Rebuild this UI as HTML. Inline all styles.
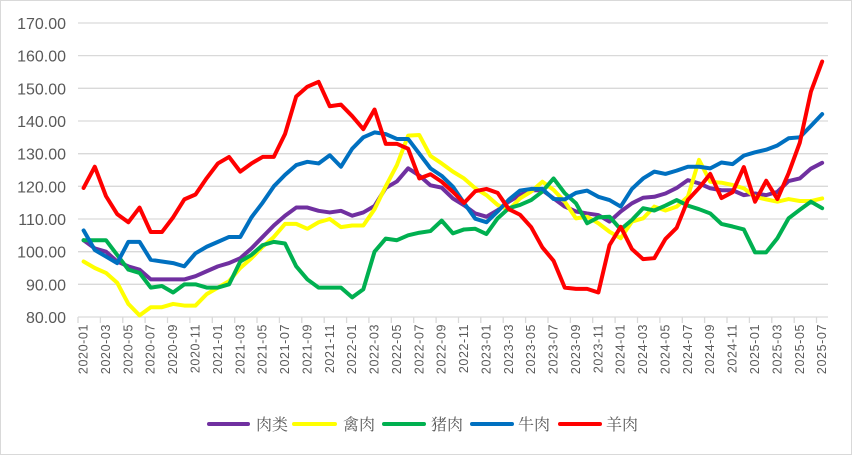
<!DOCTYPE html>
<html><head><meta charset="utf-8"><style>
html,body{margin:0;padding:0;background:#fff}
svg{display:block}
</style></head><body>
<svg width="852" height="455" viewBox="0 0 852 455" xmlns="http://www.w3.org/2000/svg">
<rect x="0.5" y="0.5" width="851" height="454" fill="#fff" stroke="#d9d9d9"/>
<g stroke="#d9d9d9" stroke-width="1.3">
<line x1="78" x2="828" y1="317" y2="317"/><line x1="78" x2="828" y1="284.3" y2="284.3"/><line x1="78" x2="828" y1="251.7" y2="251.7"/><line x1="78" x2="828" y1="219" y2="219"/><line x1="78" x2="828" y1="186.3" y2="186.3"/><line x1="78" x2="828" y1="153.7" y2="153.7"/><line x1="78" x2="828" y1="121" y2="121"/><line x1="78" x2="828" y1="88.3" y2="88.3"/><line x1="78" x2="828" y1="55.6" y2="55.6"/><line x1="78" x2="828" y1="23" y2="23"/>
<path d="M78 317v6M100.4 317v6M122.8 317v6M145.1 317v6M167.5 317v6M189.9 317v6M212.3 317v6M234.7 317v6M257 317v6M279.4 317v6M301.8 317v6M324.2 317v6M346.6 317v6M368.9 317v6M391.3 317v6M413.7 317v6M436.1 317v6M458.5 317v6M480.8 317v6M503.2 317v6M525.6 317v6M548 317v6M570.4 317v6M592.7 317v6M615.1 317v6M637.5 317v6M659.9 317v6M682.3 317v6M704.6 317v6M727 317v6M749.4 317v6M771.8 317v6M794.2 317v6M816.5 317v6"/>
</g>
<g font-family="Liberation Sans, sans-serif" font-size="16" fill="#595959" text-anchor="end">
<text x="66" y="323">80.00</text><text x="66" y="290.3">90.00</text><text x="66" y="257.7">100.00</text><text x="66" y="225">110.00</text><text x="66" y="192.3">120.00</text><text x="66" y="159.7">130.00</text><text x="66" y="127">140.00</text><text x="66" y="94.3">150.00</text><text x="66" y="61.6">160.00</text><text x="66" y="29">170.00</text>
</g>
<g font-family="Liberation Sans, sans-serif" font-size="12.5" fill="#595959" letter-spacing="0.6" text-anchor="end">
<text transform="translate(87.6,324) rotate(-90)">2020-01</text>
<text transform="translate(110,324) rotate(-90)">2020-03</text>
<text transform="translate(132.4,324) rotate(-90)">2020-05</text>
<text transform="translate(154.7,324) rotate(-90)">2020-07</text>
<text transform="translate(177.1,324) rotate(-90)">2020-09</text>
<text transform="translate(199.5,324) rotate(-90)">2020-11</text>
<text transform="translate(221.9,324) rotate(-90)">2021-01</text>
<text transform="translate(244.3,324) rotate(-90)">2021-03</text>
<text transform="translate(266.6,324) rotate(-90)">2021-05</text>
<text transform="translate(289,324) rotate(-90)">2021-07</text>
<text transform="translate(311.4,324) rotate(-90)">2021-09</text>
<text transform="translate(333.8,324) rotate(-90)">2021-11</text>
<text transform="translate(356.2,324) rotate(-90)">2022-01</text>
<text transform="translate(378.5,324) rotate(-90)">2022-03</text>
<text transform="translate(400.9,324) rotate(-90)">2022-05</text>
<text transform="translate(423.3,324) rotate(-90)">2022-07</text>
<text transform="translate(445.7,324) rotate(-90)">2022-09</text>
<text transform="translate(468.1,324) rotate(-90)">2022-11</text>
<text transform="translate(490.4,324) rotate(-90)">2023-01</text>
<text transform="translate(512.8,324) rotate(-90)">2023-03</text>
<text transform="translate(535.2,324) rotate(-90)">2023-05</text>
<text transform="translate(557.6,324) rotate(-90)">2023-07</text>
<text transform="translate(580,324) rotate(-90)">2023-09</text>
<text transform="translate(602.3,324) rotate(-90)">2023-11</text>
<text transform="translate(624.7,324) rotate(-90)">2024-01</text>
<text transform="translate(647.1,324) rotate(-90)">2024-03</text>
<text transform="translate(669.5,324) rotate(-90)">2024-05</text>
<text transform="translate(691.9,324) rotate(-90)">2024-07</text>
<text transform="translate(714.2,324) rotate(-90)">2024-09</text>
<text transform="translate(736.6,324) rotate(-90)">2024-11</text>
<text transform="translate(759,324) rotate(-90)">2025-01</text>
<text transform="translate(781.4,324) rotate(-90)">2025-03</text>
<text transform="translate(803.8,324) rotate(-90)">2025-05</text>
<text transform="translate(826.1,324) rotate(-90)">2025-07</text>
</g>
<g fill="none" stroke-width="4" stroke-linejoin="round" stroke-linecap="round" transform="matrix(11.19 0 0 -3.267 83.6 578.36)">
<polyline vector-effect="non-scaling-stroke" stroke="#7030a0" points="0,103.5 1,101 2,100 3,97 4,95.5 5,94.5 6,91.5 7,91.5 8,91.5 9,91.5 10,92.5 11,94 12,95.5 13,96.5 14,98 15,101 16,104.5 17,108 18,111 19,113.5 20,113.5 21,112.5 22,112 23,112.5 24,111 25,112 26,114 27,119.5 28,121.5 29,125.5 30,123.3 31,120.3 32,119.6 33,116.3 34,114.2 35,111.7 36,110.7 37,112.7 38,115.3 39,117.3 40,118.8 41,118.8 42,116.3 43,113.8 44,112.3 45,111.7 46,111.2 47,109.2 48,112.3 49,114.8 50,116.5 51,116.8 52,117.8 53,119.5 54,121.9 55,120.9 56,119.4 57,118.8 58,118.8 59,117.3 60,117.8 61,117.3 62,118.3 63,121.6 64,122.4 65,125.4 66,127.2"/>
<polyline vector-effect="non-scaling-stroke" stroke="#ffff00" points="0,97 1,95 2,93.5 3,90.5 4,84 5,80.5 6,83 7,83 8,84 9,83.5 10,83.5 11,87 12,89 13,91 14,95 15,98 16,101.5 17,104.5 18,108.5 19,108.5 20,107 21,109 22,110 23,107.5 24,108 25,108 26,113 27,120 28,126.5 29,135.5 30,135.7 31,129.3 32,127 33,124.5 34,122.4 35,119.4 36,117.3 37,114.3 38,112.8 39,116.3 40,118.4 41,121.4 42,118.9 43,115.3 44,110.2 45,110.7 46,108.7 47,106.1 48,104.1 49,109.2 50,110.2 51,113.8 52,112.6 53,113.8 54,116.8 55,128.1 56,121.4 57,121.1 58,120.4 59,119.4 60,116.8 61,116 62,115.3 63,116.1 64,115.5 65,115.5 66,116.3"/>
<polyline vector-effect="non-scaling-stroke" stroke="#00b050" points="0,103.5 1,103.5 2,103.5 3,99 4,94.5 5,93.5 6,89 7,89.5 8,87.5 9,90 10,90 11,89 12,89 13,90 14,97 15,99 16,102 17,103 18,102.5 19,95.5 20,91.5 21,89 22,89 23,89 24,86 25,88.5 26,100 27,104 28,103.5 29,105 30,105.8 31,106.3 32,109.5 33,105.6 34,106.8 35,107 36,105.4 37,110.2 38,113.3 39,114.3 40,115.8 41,118.4 42,122.4 43,117.9 44,114.8 45,108.7 46,110.5 47,110.7 48,106.8 49,109.7 50,113.3 51,112.6 52,114.1 53,115.8 54,114.1 55,113 56,111.7 57,108.5 58,107.7 59,106.8 60,99.8 61,99.8 62,104.1 63,110.2 64,112.8 65,115.3 66,113.3"/>
<polyline vector-effect="non-scaling-stroke" stroke="#0070c0" points="0,106.5 1,100.5 2,98.5 3,96.5 4,103 5,103 6,97.5 7,97 8,96.5 9,95.5 10,99.5 11,101.5 12,103 13,104.5 14,104.5 15,110.5 16,115 17,120 18,123.5 19,126.5 20,127.5 21,127 22,129.5 23,126 24,131.5 25,135 26,136.5 27,136 28,134.5 29,134.5 30,130 31,125.5 32,123.2 33,119.9 34,114.9 35,110.1 36,109 37,112.3 38,115.9 39,118.7 40,119.2 41,119.2 42,116.1 43,116 44,118 45,118.7 46,116.8 47,115.8 48,113.8 49,119.2 50,122.4 51,124.5 52,123.8 53,124.8 54,126 55,126 56,125.5 57,127.3 58,126.8 59,129.4 60,130.4 61,131.2 62,132.5 63,134.7 64,135 65,138.5 66,142.1"/>
<polyline vector-effect="non-scaling-stroke" stroke="#ff0000" points="0,119.5 1,126 2,117 3,111.5 4,109 5,113.5 6,106 7,106 8,110.5 9,116 10,117.5 11,122.5 12,127 13,129 14,124.5 15,127 16,129 17,129 18,136 19,147.5 20,150.5 21,152 22,144.5 23,145 24,141.5 25,137.5 26,143.5 27,133 28,133 29,131.5 30,122.4 31,123.7 32,121.4 33,118.3 34,114.9 35,118.5 36,119.2 37,118 38,113 39,111.3 40,107.5 41,101.3 42,97.2 43,89 44,88.6 45,88.6 46,87.5 47,102 48,107.6 49,100.8 50,97.7 51,98 52,103.9 53,107.3 54,115.8 55,119.5 56,123.8 57,116.4 58,118.2 59,125.9 60,115.3 61,121.7 62,116.1 63,124 64,133.3 65,149 66,158.2"/>
</g>
<g font-family="Liberation Serif, 'Noto Serif CJK SC', serif" font-size="16" fill="#595959">
<line x1="209" y1="424" x2="248" y2="424" stroke="#7030a0" stroke-width="4" stroke-linecap="round"/><text x="256" y="430">肉类</text>
<line x1="294" y1="424" x2="335" y2="424" stroke="#ffff00" stroke-width="4" stroke-linecap="round"/><text x="343" y="430">禽肉</text>
<line x1="384" y1="424" x2="424" y2="424" stroke="#00b050" stroke-width="4" stroke-linecap="round"/><text x="431" y="430">猪肉</text>
<line x1="472" y1="424" x2="512" y2="424" stroke="#0070c0" stroke-width="4" stroke-linecap="round"/><text x="518" y="430">牛肉</text>
<line x1="560" y1="424" x2="600" y2="424" stroke="#ff0000" stroke-width="4" stroke-linecap="round"/><text x="606" y="430">羊肉</text>
</g>
</svg>
</body></html>
